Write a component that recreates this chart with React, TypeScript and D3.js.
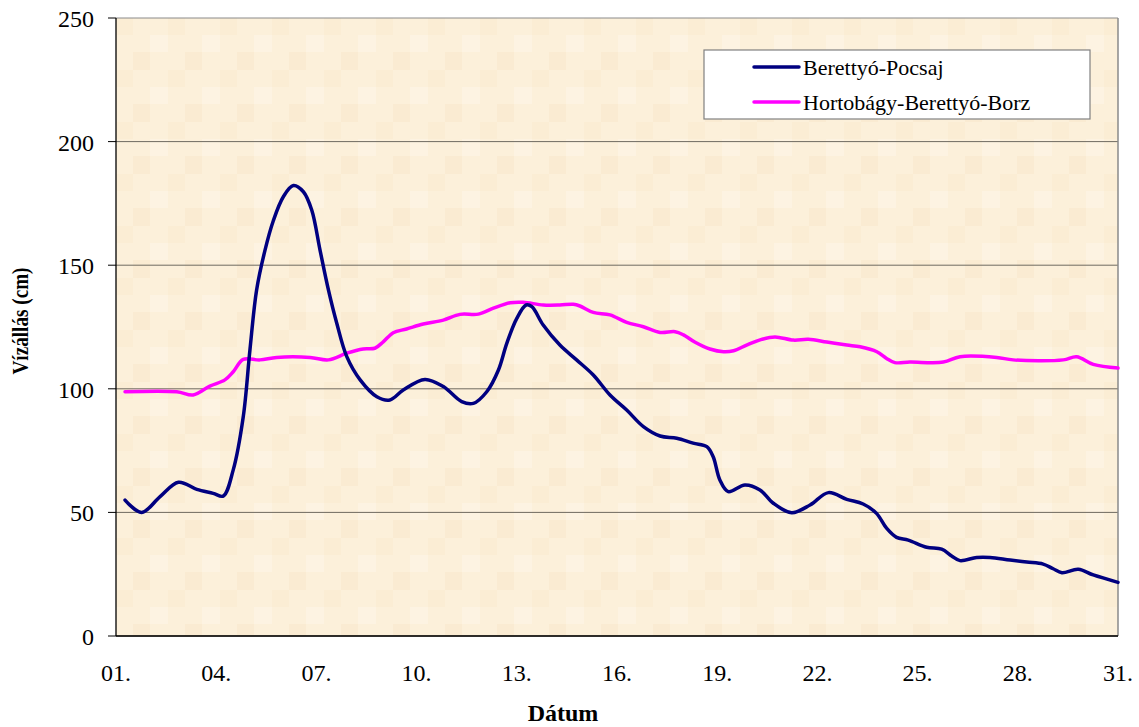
import React from "react";
import * as d3 from "d3";

// ---- data (fractional day of month, water level in cm) ----
const pocsajDays = [1.27, 1.77, 2.32, 2.87, 3.42, 3.91, 4.21, 4.51, 4.81, 5.01, 5.21, 5.46, 5.71, 6.01, 6.31, 6.61, 6.86, 7.11, 7.36, 7.61, 7.91, 8.31, 8.81, 9.2, 9.6, 10.25, 10.8, 11.35, 11.7, 12.1, 12.45, 12.7, 13.0, 13.28, 13.45, 13.79, 14.29, 14.79, 15.29, 15.79, 16.29, 16.79, 17.29, 17.79, 18.28, 18.69, 18.88, 19.08, 19.33, 19.83, 20.28, 20.68, 21.23, 21.78, 22.33, 22.88, 23.37, 23.77, 24.07, 24.37, 24.72, 25.27, 25.72, 26.02, 26.27, 26.77, 27.17, 27.77, 28.27, 28.76, 29.06, 29.32, 29.81, 30.26, 31.0];
const pocsajValues = [55, 50, 56.4, 62.2, 59.3, 57.7, 56.6, 67.2, 88.7, 115.7, 140, 156, 168, 177.7, 182.2, 179.7, 172.3, 156, 140, 126.5, 113, 103.6, 96.8, 95.5, 99.5, 103.8, 100.9, 94.8, 94.1, 98.8, 107.6, 118.4, 128.5, 133.9, 133.2, 125.8, 117.7, 111.7, 105.6, 97.5, 91.4, 84.7, 80.9, 80, 78, 76.6, 72.5, 63.1, 58.4, 61.1, 59.1, 53.7, 49.9, 53, 58, 55.3, 53.4, 49.6, 43.6, 39.9, 38.8, 35.9, 35.1, 32.4, 30.5, 31.8, 31.8, 30.7, 29.9, 29.1, 27.2, 25.6, 27, 24.7, 21.7];

const borzDays = [1.27, 2.82, 3.31, 3.81, 4.26, 4.51, 4.81, 5.31, 5.81, 6.81, 7.36, 7.91, 8.4, 8.75, 9.0, 9.3, 9.7, 10.2, 10.8, 11.3, 11.85, 12.3, 12.8, 13.19, 13.79, 14.29, 14.69, 14.89, 15.29, 15.79, 16.29, 16.79, 17.29, 17.74, 17.99, 18.34, 18.78, 19.19, 19.49, 19.88, 20.33, 20.73, 21.28, 21.73, 22.28, 22.88, 23.28, 23.78, 24.07, 24.32, 24.77, 25.77, 26.27, 27.37, 27.86, 29.36, 29.76, 30.26, 31.0];
const borzValues = [98.8, 98.8, 97.5, 101.1, 103.6, 106.9, 111.9, 111.7, 112.7, 112.7, 111.7, 114.4, 116.1, 116.4, 119, 122.7, 124.2, 126.2, 127.8, 130.1, 130.2, 132.6, 134.8, 135, 133.9, 133.9, 134.2, 133.5, 130.9, 129.9, 126.9, 125.1, 122.8, 123.1, 121.8, 118.8, 116.1, 115, 115.4, 117.7, 120, 121, 119.7, 120, 118.9, 117.7, 117, 115, 112.3, 110.6, 110.8, 110.8, 113, 112.7, 111.7, 111.7, 113, 109.9, 108.4];

const xTickDays = [1, 4, 7, 10, 13, 16, 19, 22, 25, 28, 31];
const xTickLabels = ["01.", "04.", "07.", "10.", "13.", "16.", "19.", "22.", "25.", "28.", "31."];
const yTicks = [0, 50, 100, 150, 200, 250];

const seriesNames = ["Berettyó-Pocsaj", "Hortobágy-Berettyó-Borz"];
const seriesColors = ["#000080", "#FF00FF"];

const W = 1139;
const H = 727;
const L = 116, R = 1118, T = 18, B = 636;
const FONT = "'Liberation Serif', 'Times New Roman', serif";

export default function App() {
  const x = d3.scaleLinear().domain([1, 31]).range([L, R]);
  const y = d3.scaleLinear().domain([0, 250]).range([B, T]);
  const line = d3
    .line<[number, number]>()
    .x((d) => x(d[0]))
    .y((d) => y(d[1]))
    .curve(d3.curveCatmullRom.alpha(0.5));

  const pocsaj: [number, number][] = pocsajDays.map((d, i) => [d, pocsajValues[i]]);
  const borz: [number, number][] = borzDays.map((d, i) => [d, borzValues[i]]);

  return (
    <svg
      width={W}
      height={H}
      style={{ position: "absolute", left: 0, top: 0, background: "#ffffff" }}
      fontFamily={FONT}
    >
      <defs>
        <pattern id="parch" width={52} height={52} patternUnits="userSpaceOnUse" x={L} y={T}>
          <rect width={52} height={52} fill="#FCF0DA" />
          <rect x={0} y={0} width={17} height={17} fill="#FBEDD4" />
          <rect x={34} y={17} width={18} height={17} fill="#FDF3E2" />
          <rect x={17} y={34} width={17} height={18} fill="#FAEBD2" />
        </pattern>
      </defs>
      <rect x={L} y={T} width={R - L} height={B - T} fill="url(#parch)" />
      {/* gridlines */}
      {yTicks.map((t) => (
        <line key={"g" + t} x1={L} x2={R} y1={y(t)} y2={y(t)} stroke={t === 250 ? "#8a8a8a" : "#6f6a60"} strokeWidth={1} />
      ))}
      {/* right border */}
      <line x1={R} x2={R} y1={T} y2={B} stroke="#8a8a8a" strokeWidth={1.5} />
      {/* axes */}
      <line x1={L} x2={L} y1={T} y2={B} stroke="#000" strokeWidth={1.3} />
      <line x1={L} x2={R} y1={B} y2={B} stroke="#000" strokeWidth={1.3} />
      {yTicks.map((t) => (
        <g key={"yt" + t}>
          <line x1={L - 8} x2={L} y1={y(t)} y2={y(t)} stroke="#000" strokeWidth={1} />
          <text x={94} y={y(t) + 9} textAnchor="end" fontSize={24} fill="#000">
            {t}
          </text>
        </g>
      ))}
      {xTickDays.map((d, i) => (
        <text key={"xt" + d} x={x(d)} y={681} textAnchor="middle" fontSize={24} fill="#000">
          {xTickLabels[i]}
        </text>
      ))}
      {/* series */}
      <path d={line(borz) || ""} fill="none" stroke={seriesColors[1]} strokeWidth={3.5} strokeLinejoin="round" strokeLinecap="round" />
      <path d={line(pocsaj) || ""} fill="none" stroke={seriesColors[0]} strokeWidth={3.5} strokeLinejoin="round" strokeLinecap="round" />
      {/* axis titles */}
      <text x={563} y={721} textAnchor="middle" fontSize={24} fontWeight="bold" fill="#000">
        Dátum
      </text>
      <text
        transform={`translate(28,321) rotate(-90)`}
        textAnchor="middle"
        fontSize={23}
        fontWeight="bold"
        fill="#000"
        textLength={107}
        lengthAdjust="spacingAndGlyphs"
      >
        Vízállás (cm)
      </text>
      {/* legend */}
      <rect x={704} y={50} width={386} height={69} fill="#ffffff" stroke="#808080" strokeWidth={1.2} />
      {seriesNames.map((n, i) => (
        <g key={n}>
          <line x1={754} x2={799} y1={67 + i * 35} y2={67 + i * 35} stroke={seriesColors[i]} strokeWidth={3.5} strokeLinecap="round" />
          <text x={803} y={75 + i * 35} fontSize={22} fill="#000">
            {n}
          </text>
        </g>
      ))}
    </svg>
  );
}
